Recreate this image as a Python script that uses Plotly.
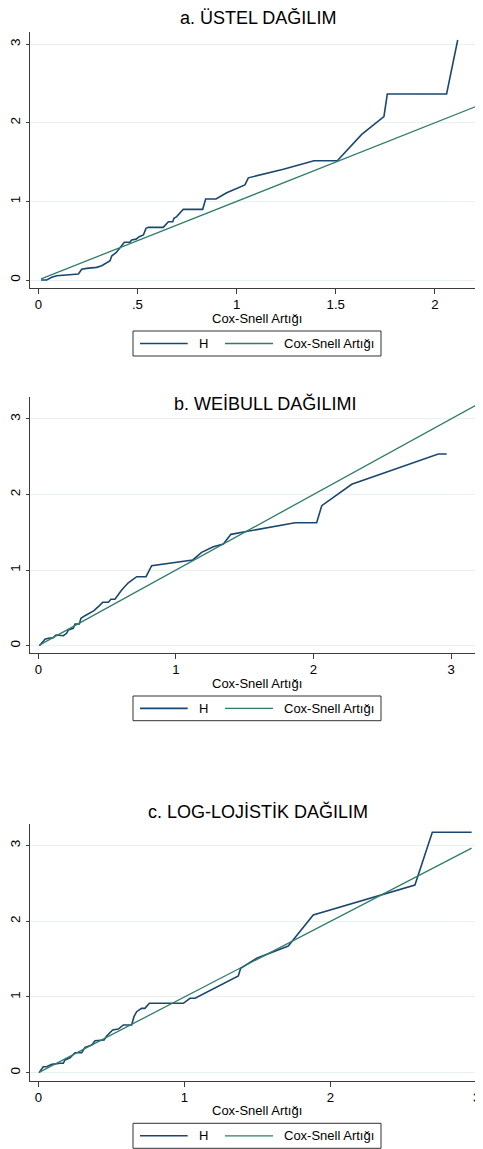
import plotly.graph_objects as go

# ---------------- data ----------------
# a. ÜSTEL DAĞILIM
a_cs = [0.014, 0.042, 0.068, 0.093, 0.202, 0.219, 0.244, 0.294, 0.320, 0.345, 0.362,
        0.370, 0.392, 0.412, 0.434, 0.462, 0.471, 0.493, 0.509, 0.530, 0.543, 0.555,
        0.630, 0.656, 0.678, 0.684, 0.698, 0.731, 0.829, 0.844, 0.896, 0.950, 1.034,
        1.042, 1.059, 1.236, 1.390, 1.508, 1.631, 1.743, 1.760, 2.059, 2.115]
a_H = [0.000, 0.000, 0.034, 0.055, 0.076, 0.136, 0.148, 0.161, 0.182, 0.220, 0.246,
       0.305, 0.348, 0.410, 0.480, 0.480, 0.509, 0.520, 0.551, 0.573, 0.657, 0.670,
       0.670, 0.742, 0.742, 0.785, 0.806, 0.899, 0.899, 1.030, 1.030, 1.110, 1.196,
       1.210, 1.300, 1.408, 1.518, 1.518, 1.853, 2.078, 2.366, 2.366, 3.053]
a_ref = [0.014, 2.21]

# b. WEİBULL DAĞILIMI
b_cs = [0.008, 0.025, 0.049, 0.073, 0.109, 0.129, 0.182, 0.206, 0.218, 0.254, 0.267,
        0.298, 0.310, 0.339, 0.376, 0.405, 0.436, 0.468, 0.509, 0.528, 0.557, 0.574,
        0.606, 0.654, 0.715, 0.783, 0.807, 0.824, 1.122, 1.127, 1.187, 1.272, 1.345,
        1.400, 1.502, 1.866, 2.023, 2.060, 2.278, 2.907, 2.968]
b_H = [0.000, 0.040, 0.085, 0.098, 0.106, 0.141, 0.132, 0.164, 0.208, 0.230, 0.287,
       0.287, 0.362, 0.397, 0.437, 0.463, 0.516, 0.574, 0.574, 0.614, 0.614, 0.657,
       0.737, 0.833, 0.913, 0.913, 1.000, 1.058, 1.134, 1.143, 1.235, 1.310, 1.345,
       1.473, 1.508, 1.627, 1.627, 1.852, 2.135, 2.536, 2.536]
b_ref = [0.008, 3.19]

# c. LOG-LOJİSTİK DAĞILIM
c_cs = [0.005, 0.034, 0.057, 0.092, 0.149, 0.171, 0.183, 0.217, 0.251, 0.297, 0.320,
        0.366, 0.388, 0.450, 0.468, 0.509, 0.548, 0.582, 0.639, 0.655, 0.673, 0.707,
        0.730, 0.760, 0.993, 1.038, 1.073, 1.369, 1.385, 1.495, 1.711, 1.882, 2.578,
        2.697, 2.966]
c_H = [0.000, 0.079, 0.079, 0.110, 0.124, 0.124, 0.168, 0.198, 0.264, 0.264, 0.335,
       0.366, 0.423, 0.432, 0.485, 0.564, 0.577, 0.630, 0.630, 0.740, 0.806, 0.850,
       0.850, 0.917, 0.917, 0.983, 0.983, 1.277, 1.379, 1.511, 1.674, 2.083, 2.479,
       3.176, 3.176]
c_ref = [0.005, 2.966]

titles = ["a. ÜSTEL DAĞILIM", "b. WEİBULL DAĞILIMI", "c. LOG-LOJİSTİK DAĞILIM"]
x_title = "Cox-Snell Artığı"
series_names = ["H", "Cox-Snell Artığı"]
a_xticks = [0, 0.5, 1, 1.5, 2]
a_xlabels = ["0", ".5", "1", "1.5", "2"]
bc_xticks = [0, 1, 2, 3]
bc_xlabels = ["0", "1", "2", "3"]
y_ticks = [0, 1, 2, 3]
y_labels = ["0", "1", "2", "3"]

# ---------------- styling / layout ----------------
# The page body has an 8px margin, so the figure is drawn 8px smaller and
# all screen-pixel positions below are converted with that offset.
OFF = 8
W, H = 483 - OFF, 1149 - OFF
NAVY = "#1a476f"
GREEN = "#2f7d69"
GRID = "#e9f0f2"
AXIS = "#3c3c3c"
FONT = "Liberation Sans, Arial, sans-serif"
COLORS = [NAVY, GREEN]
WIDTHS = [1.6, 1.3]

def py(px):  # screen pixel (from top) -> paper y
    return 1 - (px - OFF) / H

def pxx(px):  # screen pixel (from left) -> paper x
    return (px - OFF) / W

panels = [
    dict(cs=a_cs, H=a_H, ref=a_ref, xr=[-0.0434, 2.2426], yr=[-0.1018, 3.159],
         ydom=[py(288), py(31.7)], xt=a_xticks, xl=a_xlabels,
         title_xy=(257.8, 18), leg_box=(331, 356), xtitle_y=318),
    dict(cs=b_cs, H=b_H, ref=b_ref, xr=[-0.0625, 3.232], yr=[-0.1005, 3.294],
         ydom=[py(653.3), py(396.7)], xt=bc_xticks, xl=bc_xlabels,
         title_xy=(264.7, 404), leg_box=(696, 720.7), xtitle_y=683.5),
    dict(cs=c_cs, H=c_H, ref=c_ref, xr=[-0.0589, 3.044], yr=[-0.1057, 3.281],
         ydom=[py(1080.7), py(824.3)], xt=bc_xticks, xl=bc_xlabels,
         title_xy=(258.3, 811.7), leg_box=(1123.3, 1148.3), xtitle_y=1110),
]

# legend geometry (screen pixels): box left/right, line segments, text starts
LEG_X0, LEG_X1 = 133, 381
LEG_LINES = [(140, 187.7), (225, 273)]
LEG_TEXT_X = [197, 281.7]

fig = go.Figure()
annotations, shapes = [], []
layout = dict(
    width=W, height=H, margin=dict(l=0, r=0, t=0, b=0),
    paper_bgcolor="white", plot_bgcolor="white",
    font=dict(family=FONT, size=13, color="black"),
    showlegend=False,
)

for i, p in enumerate(panels):
    n = "" if i == 0 else str(i + 1)
    xa, ya = "x" + n, "y" + n
    fig.add_trace(go.Scatter(x=p["cs"], y=p["H"], mode="lines", name=series_names[0],
                             line=dict(color=COLORS[0], width=WIDTHS[0]), xaxis=xa, yaxis=ya,
                             hoverinfo="skip"))
    fig.add_trace(go.Scatter(x=p["ref"], y=p["ref"], mode="lines", name=series_names[1],
                             line=dict(color=COLORS[1], width=WIDTHS[1]), xaxis=xa, yaxis=ya,
                             hoverinfo="skip"))
    layout["xaxis" + n] = dict(
        domain=[pxx(29.7), 1.0], range=p["xr"], anchor=ya, automargin=False,
        tickmode="array", tickvals=p["xt"], ticktext=p["xl"],
        showline=True, linecolor=AXIS, linewidth=1, mirror=False,
        ticks="outside", ticklen=5, tickcolor=AXIS, tickwidth=1,
        showgrid=False, zeroline=False, tickfont=dict(size=13.2),
        ticklabelstandoff=-1, fixedrange=True,
    )
    layout["yaxis" + n] = dict(
        domain=p["ydom"], range=p["yr"], anchor=xa, automargin=False,
        tickmode="array", tickvals=y_ticks, ticktext=y_labels, tickangle=-90,
        showline=True, linecolor=AXIS, linewidth=1, mirror=False,
        ticks="outside", ticklen=3, tickcolor=AXIS, tickwidth=1,
        showgrid=True, gridcolor=GRID, gridwidth=1, zeroline=False,
        tickfont=dict(size=13.5), fixedrange=True,
    )
    # panel title
    tx, ty = p["title_xy"]
    annotations.append(dict(
        text=titles[i], x=pxx(tx), y=py(ty), xref="paper", yref="paper",
        xanchor="center", yanchor="middle", showarrow=False,
        font=dict(size=18, family=FONT, color="black")))
    # x axis title
    annotations.append(dict(
        text=x_title, x=pxx(256.7), y=py(p["xtitle_y"]), xref="paper", yref="paper",
        xanchor="center", yanchor="middle", showarrow=False,
        font=dict(size=13, family=FONT, color="black")))
    # legend box
    b0, b1 = p["leg_box"]
    yc = (b0 + b1) / 2
    shapes.append(dict(type="rect", xref="paper", yref="paper",
                       x0=pxx(LEG_X0), x1=pxx(LEG_X1), y0=py(b1), y1=py(b0),
                       line=dict(color="#333333", width=1), fillcolor="white", layer="above"))
    for k in range(2):
        lx0, lx1 = LEG_LINES[k]
        shapes.append(dict(type="line", xref="paper", yref="paper",
                           x0=pxx(lx0), x1=pxx(lx1), y0=py(yc), y1=py(yc),
                           line=dict(color=COLORS[k], width=WIDTHS[k]), layer="above"))
        annotations.append(dict(
            text=series_names[k], x=pxx(LEG_TEXT_X[k]), y=py(yc), xref="paper", yref="paper",
            xanchor="left", yanchor="middle", showarrow=False,
            font=dict(size=13, family=FONT, color="black")))

layout["annotations"] = annotations
layout["shapes"] = shapes
fig.update_layout(**layout)
fig.write_html("out.html")
